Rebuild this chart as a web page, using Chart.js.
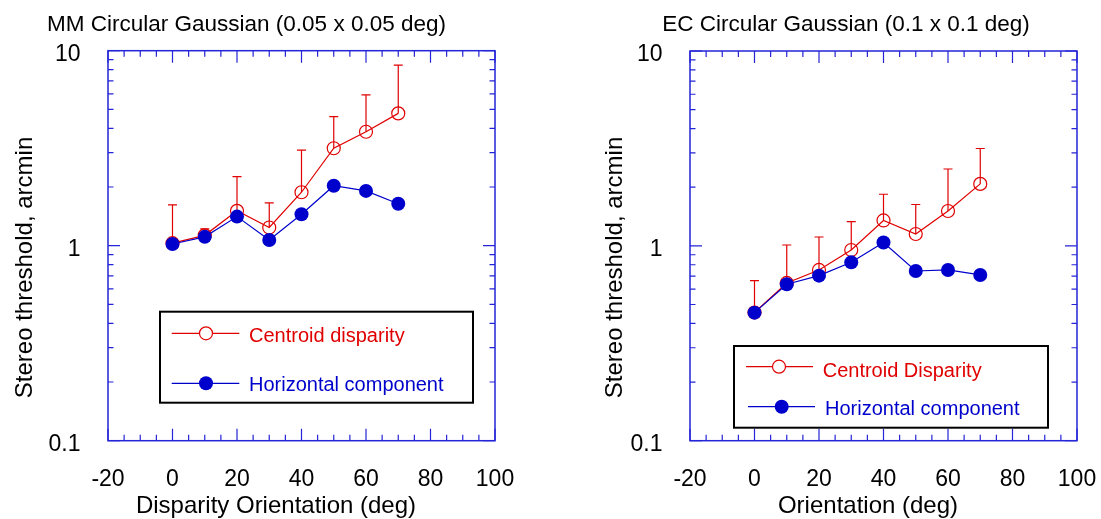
<!DOCTYPE html>
<html>
<head>
<meta charset="utf-8">
<script src="https://cdn.jsdelivr.net/npm/chart.js@4.4.1/dist/chart.umd.min.js"></script>
<style>
  html, body { margin: 0; padding: 0; background: #fff; }
  #wrap { position: relative; width: 1101px; height: 519px; }
  canvas { position: absolute; top: 0; }
</style>
</head>
<body>
<div id="wrap">
  <canvas id="mmChart" width="550" height="519" style="left:0px"></canvas>
  <canvas id="ecChart" width="551" height="519" style="left:550px"></canvas>
</div>
<script>
// orientation of the disparity (deg)
const orientations = [0, 10, 20, 30, 40, 50, 60, 70];

// MM, 0.05 x 0.05 deg
const mmCentroid = [1.03, 1.13, 1.51, 1.24, 1.88, 3.16, 3.84, 4.77];
const mmCentroidUpper = [1.62, 1.22, 2.26, 1.66, 3.09, 4.59, 5.93, 8.44];
const mmHorizontal = [1.02, 1.11, 1.41, 1.07, 1.45, 2.03, 1.91, 1.64];

// EC, 0.1 x 0.1 deg
const ecCentroid = [0.455, 0.645, 0.752, 0.952, 1.35, 1.15, 1.51, 2.08];
const ecCentroidUpper = [0.663, 1.01, 1.11, 1.33, 1.84, 1.63, 2.48, 3.16];
const ecHorizontal = [0.454, 0.635, 0.703, 0.823, 1.04, 0.743, 0.752, 0.709];

const yTickLabels = [0.1, 1, 10];

const RED = "#e00000";
const BLUE = "#0000cc";
const AXIS_BLUE = "#2424d8";
const FONT = "'Liberation Sans', Arial, sans-serif";

// up-only error bars on the centroid series
const errorBars = {
    id: "errorBars",
    beforeDatasetsDraw(chart, args, opts) {
        const ctx = chart.ctx;
        const xs = chart.scales.x, ys = chart.scales.y;
        ctx.save();
        ctx.strokeStyle = RED;
        ctx.lineWidth = 1.2;
        opts.upper.forEach((u, i) => {
            const px = xs.getPixelForValue(orientations[i]);
            const p0 = ys.getPixelForValue(opts.center[i]);
            const p1 = ys.getPixelForValue(u);
            ctx.beginPath();
            ctx.moveTo(px, p0);
            ctx.lineTo(px, p1);
            ctx.moveTo(px - 4.5, p1);
            ctx.lineTo(px + 4.5, p1);
            ctx.stroke();
        });
        ctx.restore();
    }
};

// blue box with inside ticks, titles and the boxed legend
const decor = {
    id: "decor",
    afterDraw(chart, args, o) {
        const ctx = chart.ctx;
        const { left, right, top, bottom } = chart.chartArea;
        const xs = chart.scales.x, ys = chart.scales.y;
        ctx.save();

        ctx.strokeStyle = AXIS_BLUE;
        ctx.lineWidth = 1.5;
        ctx.strokeRect(left, top, right - left, bottom - top);

        ctx.lineWidth = 1.2;
        ctx.beginPath();
        for (let v = -20; v <= 100; v += 5) {
            const px = xs.getPixelForValue(v);
            const len = v % 20 === 0 ? 12 : 6;
            ctx.moveTo(px, bottom); ctx.lineTo(px, bottom - len);
            ctx.moveTo(px, top); ctx.lineTo(px, top + len);
        }
        [0.1, 1].forEach(dec => {
            for (let k = 1; k <= 10; k++) {
                const py = ys.getPixelForValue(k * dec);
                const len = (k === 1 || k === 10) ? 12 : 5.5;
                ctx.moveTo(left, py); ctx.lineTo(left + len, py);
                ctx.moveTo(right, py); ctx.lineTo(right - len, py);
            }
        });
        ctx.stroke();

        // titles
        ctx.fillStyle = "#000";
        ctx.textBaseline = "alphabetic";
        ctx.textAlign = "center";
        ctx.font = "22.5px " + FONT;
        ctx.fillText(o.title, o.titleX, 31);
        ctx.font = "24px " + FONT;
        ctx.fillText(o.xTitle, o.xTitleX, 513);
        ctx.save();
        ctx.translate(o.yTitleX, 267.5);
        ctx.rotate(-Math.PI / 2);
        ctx.fillText("Stereo threshold, arcmin", 0, 0);
        ctx.restore();

        // legend
        const L = o.legend;
        ctx.strokeStyle = "#000";
        ctx.lineWidth = 2;
        ctx.strokeRect(L.x, L.y, L.w, L.h);
        ctx.font = "20px " + FONT;
        ctx.textAlign = "left";
        L.rows.forEach(r => {
            ctx.strokeStyle = r.color;
            ctx.lineWidth = 1.2;
            ctx.beginPath();
            ctx.moveTo(r.x0, r.y); ctx.lineTo(r.x1, r.y);
            ctx.stroke();
            ctx.beginPath();
            ctx.arc(r.mx, r.y, r.filled ? 7 : 6.5, 0, Math.PI * 2);
            if (r.filled) {
                ctx.fillStyle = r.color; ctx.fill();
            } else {
                ctx.fillStyle = "#fff"; ctx.fill(); ctx.stroke();
            }
            ctx.fillStyle = r.color;
            ctx.fillText(r.text, r.tx, r.ty);
        });
        ctx.restore();
    }
};

function makePanel(id, cfg) {
    const ctx = document.getElementById(id).getContext("2d");
    return new Chart(ctx, {
        type: "line",
        data: {
            datasets: [
                {
                    label: cfg.centroidLabel,
                    data: orientations.map((x, i) => ({ x: x, y: cfg.centroid[i] })),
                    borderColor: RED,
                    borderWidth: 1.2,
                    pointRadius: 6.5,
                    pointBorderWidth: 1.2,
                    pointBorderColor: RED,
                    pointBackgroundColor: "rgba(255,255,255,0)",
                    fill: false,
                    tension: 0,
                    order: 2,
                },
                {
                    label: "Horizontal component",
                    data: orientations.map((x, i) => ({ x: x, y: cfg.horizontal[i] })),
                    borderColor: BLUE,
                    borderWidth: 1.2,
                    pointRadius: 7,
                    pointBorderWidth: 0,
                    pointBackgroundColor: BLUE,
                    fill: false,
                    tension: 0,
                    order: 1,
                },
            ],
        },
        options: {
            responsive: false,
            animation: false,
            devicePixelRatio: 1,
            layout: { padding: { left: 0, top: cfg.area.top, right: cfg.area.right, bottom: 0 } },
            scales: {
                x: {
                    type: "linear",
                    min: -20,
                    max: 100,
                    grid: { display: false },
                    border: { display: false },
                    ticks: {
                        stepSize: 20,
                        padding: 17,
                        maxRotation: 0,
                        color: "#000",
                        font: { family: FONT, size: 23 },
                    },
                    afterFit: s => {
                        s.height = 519 - cfg.area.bottom;
                        // keep the plot box where the layout padding puts it
                        s.paddingLeft = 0;
                        s.paddingRight = 0;
                    },
                },
                y: {
                    type: "logarithmic",
                    min: 0.1,
                    max: 10,
                    grid: { display: false },
                    border: { display: false },
                    ticks: {
                        autoSkip: false,
                        padding: 19.5,
                        labelOffset: 4,
                        color: "#000",
                        font: { family: FONT, size: 23 },
                        callback: v => {
                            const t = yTickLabels.find(l => Math.abs(l - v) / l < 1e-6);
                            return t === undefined ? "" : String(t);
                        },
                    },
                    afterFit: s => {
                        s.width = cfg.area.left;
                        s.paddingTop = 0;
                        s.paddingBottom = 0;
                    },
                },
            },
            plugins: {
                legend: { display: false },
                tooltip: { enabled: false },
                errorBars: { center: cfg.centroid, upper: cfg.upper },
                decor: cfg.decor,
            },
        },
        plugins: [errorBars, decor],
    });
}

makePanel("mmChart", {
    centroidLabel: "Centroid disparity",
    centroid: mmCentroid,
    upper: mmCentroidUpper,
    horizontal: mmHorizontal,
    area: { left: 108, top: 50.7, right: 55, bottom: 440.7 },
    decor: {
        title: "MM Circular Gaussian (0.05 x 0.05 deg)",
        titleX: 246.5,
        xTitle: "Disparity Orientation (deg)",
        xTitleX: 276,
        yTitleX: 32,
        legend: {
            x: 160, y: 311.7, w: 313, h: 91,
            rows: [
                { text: "Centroid disparity", color: RED, filled: false, x0: 171.7, x1: 239.3, mx: 206, y: 333.3, tx: 249, ty: 342 },
                { text: "Horizontal component", color: BLUE, filled: true, x0: 171.7, x1: 239.3, mx: 206, y: 383.3, tx: 249, ty: 390.7 },
            ],
        },
    },
});

makePanel("ecChart", {
    centroidLabel: "Centroid Disparity",
    centroid: ecCentroid,
    upper: ecCentroidUpper,
    horizontal: ecHorizontal,
    area: { left: 140, top: 51, right: 24, bottom: 440.7 },
    decor: {
        title: "EC Circular Gaussian (0.1 x 0.1 deg)",
        titleX: 296,
        xTitle: "Orientation (deg)",
        xTitleX: 318,
        yTitleX: 71.7,
        legend: {
            x: 184, y: 346, w: 314, h: 81.7,
            rows: [
                { text: "Centroid Disparity", color: RED, filled: false, x0: 196, x1: 263, mx: 229, y: 366.7, tx: 272.7, ty: 376.5 },
                { text: "Horizontal component", color: BLUE, filled: true, x0: 198, x1: 265, mx: 231.7, y: 406.7, tx: 275, ty: 415 },
            ],
        },
    },
});
</script>
</body>
</html>
